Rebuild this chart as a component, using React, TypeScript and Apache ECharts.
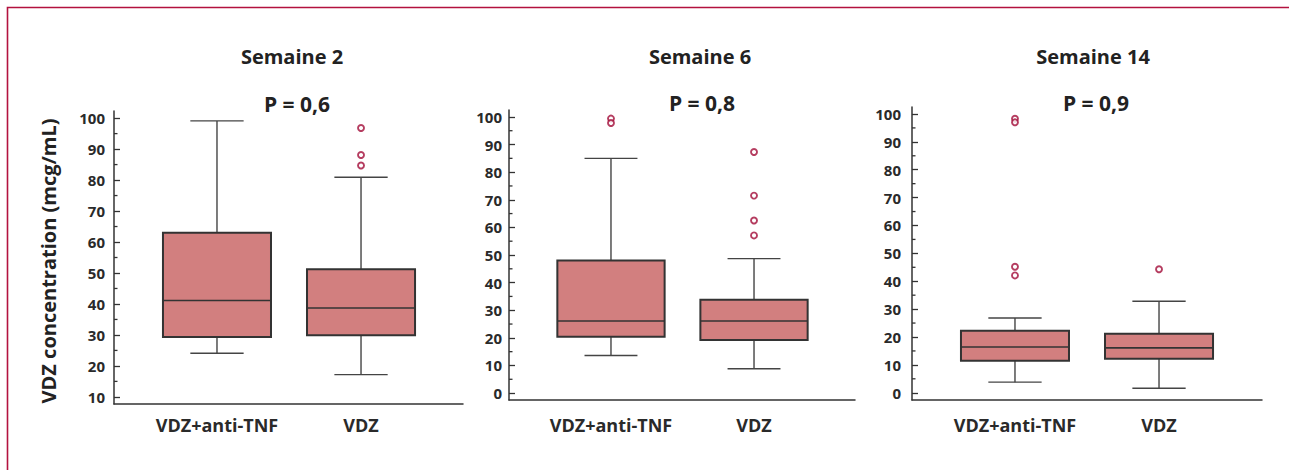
import React, { useEffect, useRef } from 'react';
import * as echarts from 'echarts';

// ---------- data ----------
const categories = ['VDZ+anti-TNF', 'VDZ'];
const panelTitles = ['Semaine 2', 'Semaine 6', 'Semaine 14'];
const pLabels = ['P = 0,6', 'P = 0,8', 'P = 0,9'];
const yAxisTitle = 'VDZ concentration (mcg/mL)';

// each box: [category index, low whisker, Q1, median, Q3, high whisker]
const week2Boxes = [
  [0, 24.1, 29.3, 41.1, 63.0, 99.1],
  [1, 17.2, 29.9, 38.7, 51.2, 80.9],
];
const week6Boxes = [
  [0, 13.6, 20.4, 26.1, 48.0, 85.0],
  [1, 8.8, 19.2, 26.1, 33.8, 48.7],
];
const week14Boxes = [
  [0, 3.8, 11.5, 16.4, 22.2, 26.8],
  [1, 1.6, 12.2, 16.1, 21.2, 32.8],
];

// outliers: [category index, value]
const week2Outliers = [[1, 96.8], [1, 88.1], [1, 84.7]];
const week6Outliers = [[0, 99.4], [0, 97.8], [1, 87.3], [1, 71.5], [1, 62.5], [1, 57.1]];
const week14Outliers = [[0, 98.3], [0, 97.0], [0, 45.2], [0, 42.1], [1, 44.3]];

const week2Ticks = [10, 20, 30, 40, 50, 60, 70, 80, 90, 100];
const week2MinorTicks = [15, 25, 35, 45, 55, 65, 75, 85, 95];
const week6Ticks = [0, 10, 20, 30, 40, 50, 60, 70, 80, 90, 100];
const week6MinorTicks = [5, 15, 25, 35, 45, 55, 65, 75, 85, 95];
const week14Ticks = [0, 10, 20, 30, 40, 50, 60, 70, 80, 90, 100];
const week14MinorTicks = [5, 15, 25, 35, 45, 55, 65, 75, 85, 95];

// ---------- layout / style ----------
const FONT = '"Open Sans", "Noto Sans", sans-serif';
const BOX_W = 0.75;
const CAP_W = 0.37;
const MINOR_TICK_PX = 3.5;
const BOX_FILL = '#d27f7f';
const DARK = '#333333';
const OUTLIER = '#a30c38';

const panels = [
  {
    boxes: week2Boxes, outliers: week2Outliers, ticks: week2Ticks, minor: week2MinorTicks,
    grid: { left: 114, top: 111, width: 349, height: 293 },
    yMin: 7.7, yMax: 102.3, xMin: -0.715, xMax: 1.708, yLabelMargin: 9, xLabelMargin: 12,
    titleX: 292, pX: 297, titleY: 56, pY: 104,
  },
  {
    boxes: week6Boxes, outliers: week6Outliers, ticks: week6Ticks, minor: week6MinorTicks,
    grid: { left: 509, top: 110, width: 346, height: 290 },
    yMin: -2.5, yMax: 102.5, xMin: -0.713, xMax: 1.706, yLabelMargin: 7, xLabelMargin: 16,
    titleX: 700, pX: 702, titleY: 56, pY: 103,
  },
  {
    boxes: week14Boxes, outliers: week14Outliers, ticks: week14Ticks, minor: week14MinorTicks,
    grid: { left: 912, top: 107, width: 350, height: 293 },
    yMin: -2.6, yMax: 102.5, xMin: -0.715, xMax: 1.715, yLabelMargin: 11, xLabelMargin: 16,
    titleX: 1093, pX: 1096, titleY: 56, pY: 103,
  },
];

function renderBox(_params: any, api: any) {
  const x = api.value(0);
  const lo = api.value(1);
  const q1 = api.value(2);
  const md = api.value(3);
  const q3 = api.value(4);
  const hi = api.value(5);
  const pLo = api.coord([x, lo]);
  const pQ1 = api.coord([x, q1]);
  const pMd = api.coord([x, md]);
  const pQ3 = api.coord([x, q3]);
  const pHi = api.coord([x, hi]);
  const half = api.size([BOX_W, 0])[0] / 2;
  const capHalf = api.size([CAP_W, 0])[0] / 2;
  const cx = pLo[0];
  const wStyle = { stroke: '#444444', lineWidth: 1.4 };
  return {
    type: 'group',
    children: [
      { type: 'line', shape: { x1: cx, y1: pHi[1], x2: cx, y2: pQ3[1] }, style: wStyle },
      { type: 'line', shape: { x1: cx, y1: pQ1[1], x2: cx, y2: pLo[1] }, style: wStyle },
      { type: 'line', shape: { x1: cx - capHalf, y1: pHi[1], x2: cx + capHalf, y2: pHi[1] }, style: wStyle },
      { type: 'line', shape: { x1: cx - capHalf, y1: pLo[1], x2: cx + capHalf, y2: pLo[1] }, style: wStyle },
      {
        type: 'rect',
        shape: { x: cx - half, y: pQ3[1], width: 2 * half, height: pQ1[1] - pQ3[1] },
        style: { fill: BOX_FILL, stroke: DARK, lineWidth: 2 },
      },
      {
        type: 'line',
        shape: { x1: cx - half, y1: pMd[1], x2: cx + half, y2: pMd[1] },
        style: { stroke: DARK, lineWidth: 1.6 },
      },
    ],
  };
}

function buildOption() {
  const grid: any[] = [];
  const xAxis: any[] = [];
  const yAxis: any[] = [];
  const series: any[] = [];
  const graphic: any[] = [];

  panels.forEach((p, i) => {
    grid.push({ ...p.grid, containLabel: false });
    xAxis.push({
      type: 'value',
      gridIndex: i,
      min: p.xMin,
      max: p.xMax,
      axisLine: { show: true, onZero: false, lineStyle: { color: DARK, width: 1.5 } },
      axisTick: { show: false },
      splitLine: { show: false },
      axisLabel: {
        show: true,
        customValues: [0, 1],
        formatter: (v: number) => categories[Math.round(v)] ?? '',
        margin: p.xLabelMargin,
        color: '#2a2a2a',
        fontFamily: FONT,
        fontWeight: 'bold',
        fontSize: 18,
      },
    });
    yAxis.push({
      type: 'value',
      gridIndex: i,
      min: p.yMin,
      max: p.yMax,
      position: 'left',
      axisLine: { show: true, onZero: false, lineStyle: { color: DARK, width: 1.5 } },
      axisTick: { show: true, inside: true, length: 6, customValues: p.ticks, lineStyle: { color: DARK, width: 1.3 } },
      splitLine: { show: false },
      axisLabel: {
        show: true,
        customValues: p.ticks,
        margin: p.yLabelMargin,
        color: '#2a2a2a',
        fontFamily: FONT,
        fontWeight: 'bold',
        fontSize: 15,
      },
    });

    // minor ticks drawn on the y-axis through the axis scales
    const xMinVal = p.xMin;
    series.push({
      type: 'custom',
      xAxisIndex: i,
      yAxisIndex: i,
      silent: true,
      renderItem: (_params: any, api: any) => {
        const pt = api.coord([xMinVal, api.value(0)]);
        return {
          type: 'line',
          shape: { x1: pt[0], y1: pt[1], x2: pt[0] + MINOR_TICK_PX, y2: pt[1] },
          style: { stroke: DARK, lineWidth: 1.3 },
        };
      },
      encode: { y: 0 },
      data: p.minor.map((v) => [v]),
      z: 1,
    });

    series.push({
      type: 'custom',
      xAxisIndex: i,
      yAxisIndex: i,
      renderItem: renderBox,
      encode: { x: 0, y: [1, 2, 3, 4, 5] },
      data: p.boxes,
      z: 2,
    });
    series.push({
      type: 'scatter',
      xAxisIndex: i,
      yAxisIndex: i,
      symbol: 'circle',
      symbolSize: 6,
      itemStyle: { color: '#ffffff', borderColor: OUTLIER, borderWidth: 1.9 },
      data: p.outliers,
      z: 3,
    });

    graphic.push({
      type: 'text',
      x: p.titleX,
      y: p.titleY,
      style: {
        text: panelTitles[i],
        font: `bold 20px ${FONT}`,
        fill: '#222222',
        align: 'center',
        verticalAlign: 'middle',
      },
    });
    graphic.push({
      type: 'text',
      x: p.pX,
      y: p.pY,
      style: {
        text: pLabels[i],
        font: `bold 21px ${FONT}`,
        fill: '#222222',
        align: 'center',
        verticalAlign: 'middle',
      },
    });
  });

  graphic.push({
    type: 'text',
    x: 48,
    y: 261,
    rotation: Math.PI / 2,
    style: {
      text: yAxisTitle,
      font: `bold 20px ${FONT}`,
      fill: '#222222',
      align: 'center',
      verticalAlign: 'middle',
    },
  });
  graphic.push({
    type: 'rect',
    shape: { x: 7.5, y: 7.5, width: 1320, height: 500 },
    style: { fill: 'none', stroke: '#b3123f', lineWidth: 1.6 },
    z: -1,
  });

  return {
    animation: false,
    backgroundColor: '#ffffff',
    grid,
    xAxis,
    yAxis,
    series,
    graphic,
  };
}

export default function App() {
  const ref = useRef<HTMLDivElement>(null);
  useEffect(() => {
    if (!ref.current) return;
    const chart = echarts.init(ref.current, undefined, { renderer: 'svg' });
    chart.setOption(buildOption() as any);
    return () => chart.dispose();
  }, []);
  return (
    <div
      ref={ref}
      style={{ position: 'fixed', left: 0, top: 0, width: 1289, height: 470 }}
    />
  );
}
